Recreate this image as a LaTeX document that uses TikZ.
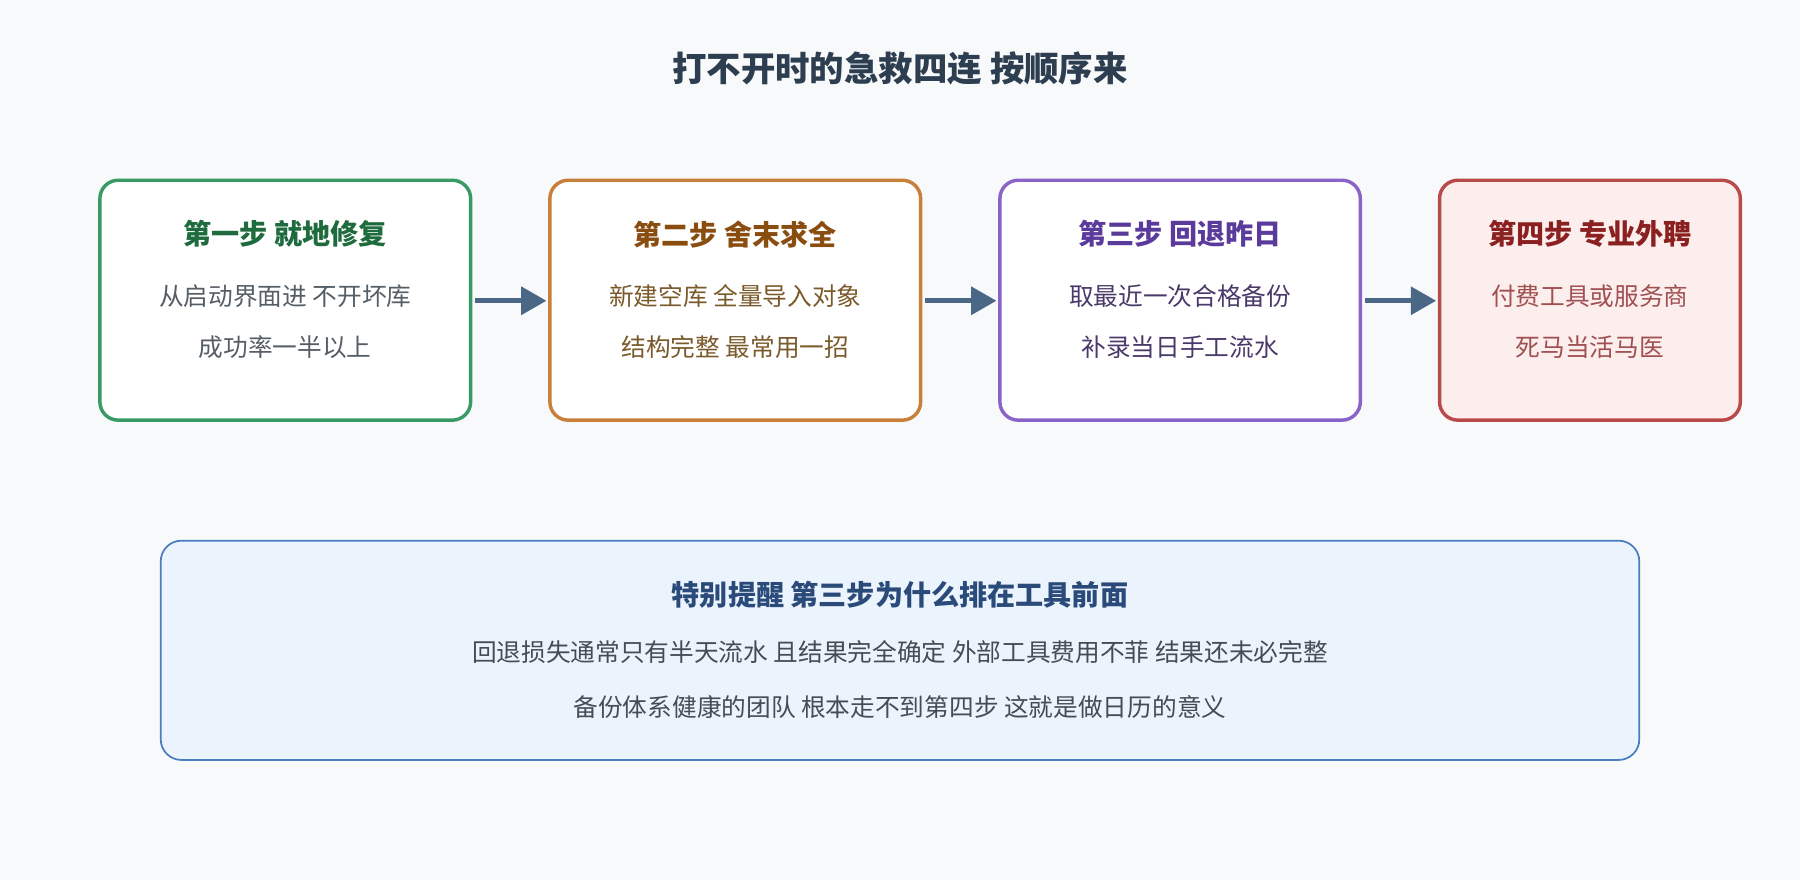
\documentclass[tikz,border=0pt]{standalone}
\usepackage{fontspec}
\setmainfont{Noto Sans CJK SC}
\usetikzlibrary{arrows.meta}
\definecolor{bg}{HTML}{F8F9FB}
\definecolor{ttl}{HTML}{2C3E50}
\definecolor{gB}{HTML}{3A9A64}\definecolor{gT}{HTML}{1E6B3E}\definecolor{gX}{HTML}{555E66}
\definecolor{oB}{HTML}{C87F3A}\definecolor{oT}{HTML}{8A4D10}\definecolor{oX}{HTML}{7A5A2A}
\definecolor{pB}{HTML}{8A63C8}\definecolor{pT}{HTML}{5A3A9A}\definecolor{pX}{HTML}{4A3A6A}
\definecolor{rB}{HTML}{B84A4A}\definecolor{rT}{HTML}{8A2020}\definecolor{rX}{HTML}{A05050}\definecolor{rF}{HTML}{FDEEEE}
\definecolor{aC}{HTML}{4A6785}
\definecolor{nB}{HTML}{4A7CC0}\definecolor{nF}{HTML}{EBF3FD}\definecolor{nT}{HTML}{2A4A7A}\definecolor{nX}{HTML}{444C58}
\begin{document}
\begin{tikzpicture}[x=1pt,y=-1pt,
  box/.style={draw,line width=3pt,rounded corners=16pt,inner sep=0pt},
  hd/.style={font=\fontsize{24.5}{28}\selectfont\bfseries},
  tx/.style={font=\fontsize{21.5}{25}\selectfont},
  arr/.style={draw=aC,line width=4pt,-{Triangle[length=22pt,width=24pt]}}]
\fill[bg] (0,0) rectangle (1568,767);
\useasboundingbox (0,0) rectangle (1568,767);
\node[font=\fontsize{30}{34}\selectfont\bfseries,text=ttl] (title) at (784,60) {打不开时的急救四连 按顺序来};
% boxes
\draw[box,draw=gB,fill=white] (87,157) rectangle (410,366);
\node[hd,text=gT] (h1) at (248.5,204) {第一步 就地修复};
\node[tx,text=gX] (t1a) at (248.5,258) {从启动界面进 不开坏库};
\node[tx,text=gX] (t1b) at (248.5,302) {成功率一半以上};
\draw[box,draw=oB,fill=white] (479,157) rectangle (802,366);
\node[hd,text=oT] (h2) at (640.5,204) {第二步 舍末求全};
\node[tx,text=oX] (t2a) at (640.5,258) {新建空库 全量导入对象};
\node[tx,text=oX] (t2b) at (640.5,302) {结构完整 最常用一招};
\draw[box,draw=pB,fill=white] (871,157) rectangle (1185,366);
\node[hd,text=pT] (h3) at (1028,204) {第三步 回退昨日};
\node[tx,text=pX] (t3a) at (1028,258) {取最近一次合格备份};
\node[tx,text=pX] (t3b) at (1028,302) {补录当日手工流水};
\draw[box,draw=rB,fill=rF] (1254,157) rectangle (1516,366);
\node[hd,text=rT] (h4) at (1385,204) {第四步 专业外聘};
\node[tx,text=rX] (t4a) at (1385,258) {付费工具或服务商};
\node[tx,text=rX] (t4b) at (1385,302) {死马当活马医};
% arrows
\coordinate (a1s) at (414,262);\coordinate (a1e) at (476,262);
\coordinate (a2s) at (806,262);\coordinate (a2e) at (868,262);
\coordinate (a3s) at (1189,262);\coordinate (a3e) at (1251,262);
\draw[arr] (a1s) -- (a1e);
\draw[arr] (a2s) -- (a2e);
\draw[arr] (a3s) -- (a3e);
% note
\draw[draw=nB,fill=nF,line width=1.5pt,rounded corners=18pt] (140,471) rectangle (1428,662);
\node[hd,text=nT] (nh) at (784,518) {特别提醒 第三步为什么排在工具前面};
\node[tx,text=nX] (n1) at (784,568) {回退损失通常只有半天流水 且结果完全确定 外部工具费用不菲 结果还未必完整};
\node[tx,text=nX] (n2) at (784,616) {备份体系健康的团队 根本走不到第四步 这就是做日历的意义};
\end{tikzpicture}
\end{document}
